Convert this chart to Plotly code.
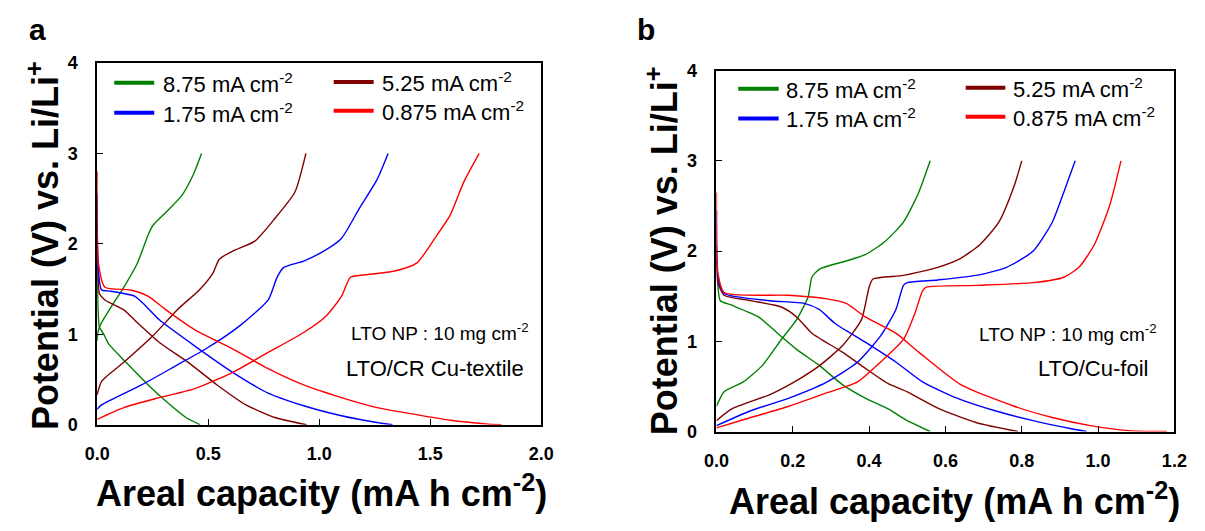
import plotly.graph_objects as go

# ---------------- Panel a : LTO / CR Cu-textile ----------------
a_green_chg_x = [0.0, 0.005, 0.02, 0.07, 0.12, 0.18, 0.23, 0.25, 0.31, 0.38, 0.43, 0.47]
a_green_chg_y = [0.93, 1.04, 1.13, 1.33, 1.52, 1.78, 2.1, 2.2, 2.35, 2.53, 2.75, 3.0]
a_green_dis_x = [0.0, 0.004, 0.01, 0.03, 0.05, 0.13, 0.23, 0.31, 0.40, 0.464]
a_green_dis_y = [1.75, 1.3, 1.08, 1.0, 0.9, 0.69, 0.44, 0.26, 0.08, 0.0]

a_brown_chg_x = [0.0, 0.02, 0.12, 0.25, 0.36, 0.46, 0.52, 0.55, 0.61, 0.71, 0.80, 0.89, 0.94]
a_brown_chg_y = [0.33, 0.48, 0.69, 0.98, 1.27, 1.49, 1.67, 1.83, 1.92, 2.03, 2.28, 2.57, 3.0]
a_brown_dis_x = [0.0, 0.004, 0.01, 0.035, 0.12, 0.18, 0.28, 0.41, 0.54, 0.67, 0.80, 0.943]
a_brown_dis_y = [2.25, 1.7, 1.45, 1.38, 1.27, 1.13, 0.91, 0.69, 0.44, 0.22, 0.08, 0.0]

a_blue_chg_x = [0.0, 0.02, 0.2, 0.36, 0.49, 0.64, 0.77, 0.81, 0.84, 0.93, 1.02, 1.1, 1.18, 1.26, 1.31]
a_blue_chg_y = [0.17, 0.22, 0.44, 0.66, 0.84, 1.09, 1.38, 1.63, 1.74, 1.81, 1.92, 2.06, 2.39, 2.71, 3.0]
a_blue_dis_x = [0.0, 0.004, 0.02, 0.05, 0.17, 0.22, 0.28, 0.44, 0.61, 0.77, 0.93, 1.1, 1.26, 1.33]
a_blue_dis_y = [2.55, 1.75, 1.49, 1.48, 1.42, 1.31, 1.16, 0.87, 0.58, 0.35, 0.21, 0.1, 0.025, 0.0]

a_red_chg_x = [0.0, 0.12, 0.28, 0.44, 0.61, 0.77, 0.93, 1.03, 1.1, 1.14, 1.18, 1.34, 1.44, 1.52, 1.59, 1.65, 1.72]
a_red_chg_y = [0.06, 0.19, 0.30, 0.40, 0.58, 0.80, 1.02, 1.2, 1.42, 1.63, 1.65, 1.70, 1.79, 2.06, 2.32, 2.68, 3.0]
a_red_dis_x = [0.0, 0.005, 0.035, 0.15, 0.23, 0.31, 0.44, 0.61, 0.77, 0.93, 1.1, 1.26, 1.42, 1.59, 1.75, 1.82]
a_red_dis_y = [2.8, 1.8, 1.52, 1.49, 1.42, 1.27, 1.05, 0.84, 0.62, 0.44, 0.30, 0.19, 0.12, 0.05, 0.01, 0.0]

# ---------------- Panel b : LTO / Cu-foil ----------------
b_green_chg_x = [0.0, 0.02, 0.07, 0.12, 0.17, 0.21, 0.24, 0.25, 0.27, 0.34, 0.39, 0.44, 0.49, 0.53, 0.56]
b_green_chg_y = [0.28, 0.44, 0.55, 0.73, 1.02, 1.24, 1.49, 1.71, 1.80, 1.89, 1.96, 2.1, 2.32, 2.65, 3.0]
b_green_dis_x = [0.0, 0.004, 0.01, 0.04, 0.11, 0.16, 0.21, 0.27, 0.33, 0.39, 0.45, 0.50, 0.56]
b_green_dis_y = [1.9, 1.6, 1.45, 1.40, 1.27, 1.09, 0.91, 0.73, 0.52, 0.37, 0.25, 0.12, 0.0]

b_brown_chg_x = [0.0, 0.04, 0.14, 0.22, 0.27, 0.33, 0.38, 0.40, 0.41, 0.49, 0.58, 0.64, 0.69, 0.74, 0.78, 0.80]
b_brown_chg_y = [0.12, 0.25, 0.41, 0.59, 0.73, 0.95, 1.24, 1.6, 1.69, 1.73, 1.82, 1.92, 2.07, 2.32, 2.72, 3.0]
b_brown_dis_x = [0.0, 0.004, 0.02, 0.09, 0.17, 0.21, 0.25, 0.33, 0.39, 0.45, 0.50, 0.58, 0.68, 0.79]
b_brown_dis_y = [2.05, 1.65, 1.51, 1.45, 1.38, 1.27, 1.09, 0.88, 0.70, 0.53, 0.44, 0.26, 0.10, 0.0]

b_blue_chg_x = [0.0, 0.09, 0.19, 0.29, 0.37, 0.43, 0.47, 0.49, 0.50, 0.58, 0.68, 0.76, 0.83, 0.88, 0.91, 0.94]
b_blue_chg_y = [0.065, 0.23, 0.37, 0.55, 0.77, 1.06, 1.35, 1.62, 1.65, 1.68, 1.73, 1.82, 2.0, 2.32, 2.65, 3.0]
b_blue_dis_x = [0.0, 0.004, 0.02, 0.14, 0.23, 0.27, 0.31, 0.39, 0.47, 0.54, 0.63, 0.73, 0.83, 0.93, 0.97]
b_blue_dis_y = [2.45, 1.7, 1.53, 1.45, 1.42, 1.35, 1.2, 0.99, 0.77, 0.55, 0.37, 0.23, 0.12, 0.03, 0.0]

b_red_chg_x = [0.0, 0.09, 0.19, 0.29, 0.37, 0.43, 0.49, 0.52, 0.54, 0.55, 0.68, 0.83, 0.91, 0.95, 0.99, 1.03, 1.06]
b_red_chg_y = [0.04, 0.155, 0.28, 0.43, 0.55, 0.77, 1.02, 1.31, 1.56, 1.6, 1.62, 1.65, 1.71, 1.82, 2.07, 2.5, 3.0]
b_red_dis_x = [0.0, 0.004, 0.02, 0.19, 0.29, 0.34, 0.39, 0.47, 0.53, 0.64, 0.78, 0.88, 0.98, 1.08, 1.18]
b_red_dis_y = [2.65, 1.75, 1.54, 1.51, 1.47, 1.42, 1.27, 1.09, 0.88, 0.52, 0.28, 0.155, 0.065, 0.01, 0.0]

# Current densities and colours (legend order: row-wise)
rates = ["8.75", "5.25", "1.75", "0.875"]
colors = {"8.75": "#008000", "5.25": "#7f0000", "1.75": "#0000ff", "0.875": "#ff0000"}

panel_a = {
    "8.75": (a_green_chg_x, a_green_chg_y, a_green_dis_x, a_green_dis_y),
    "5.25": (a_brown_chg_x, a_brown_chg_y, a_brown_dis_x, a_brown_dis_y),
    "1.75": (a_blue_chg_x, a_blue_chg_y, a_blue_dis_x, a_blue_dis_y),
    "0.875": (a_red_chg_x, a_red_chg_y, a_red_dis_x, a_red_dis_y),
}
panel_b = {
    "8.75": (b_green_chg_x, b_green_chg_y, b_green_dis_x, b_green_dis_y),
    "5.25": (b_brown_chg_x, b_brown_chg_y, b_brown_dis_x, b_brown_dis_y),
    "1.75": (b_blue_chg_x, b_blue_chg_y, b_blue_dis_x, b_blue_dis_y),
    "0.875": (b_red_chg_x, b_red_chg_y, b_red_dis_x, b_red_dis_y),
}

FONT = "Arial, Liberation Sans, sans-serif"
W, H = 1205, 531

fig = go.Figure()

def add_curves(data, xa, ya):
    for r in rates:
        cx, cy, dx, dy = data[r]
        for xs, ys in ((dx, dy), (cx, cy)):
            fig.add_trace(go.Scatter(
                x=xs, y=ys, mode="lines", xaxis=xa, yaxis=ya,
                line=dict(color=colors[r], width=1.4, shape="spline", smoothing=0.6),
                showlegend=False, hoverinfo="skip"))

add_curves(panel_a, "x", "y")
add_curves(panel_b, "x2", "y2")

# Axis domains in pixels
a_px = (86, 540, 55, 431)
b_px = (719, 1187, 63, 438)

def dom(px):
    x0, x1, t, b = px
    return [x0 / W, x1 / W], [1 - b / H, 1 - t / H]

ax_dx, ax_dy = dom(a_px)
bx_dx, bx_dy = dom(b_px)

axis_common = dict(showline=True, mirror=True, linecolor="black", linewidth=1.5,
                   ticks="inside", ticklen=6, tickwidth=1.2, tickcolor="black",
                   showgrid=False, zeroline=False,
                   tickfont=dict(family=FONT, size=18, color="black", weight="bold"))

fig.update_layout(
    width=W, height=H, margin=dict(l=0, r=0, t=0, b=0),
    paper_bgcolor="white", plot_bgcolor="white", showlegend=False,
    xaxis=dict(domain=ax_dx, anchor="y", range=[0, 2.0], tickvals=[0, 0.5, 1.0, 1.5, 2.0],
               ticktext=["0.0", "0.5", "1.0", "1.5", "2.0"], ticklabelstandoff=12, **axis_common),
    yaxis=dict(domain=ax_dy, anchor="x", range=[0, 4], tickvals=[0, 1, 2, 3, 4],
               ticklabelstandoff=14, **axis_common),
    xaxis2=dict(domain=bx_dx, anchor="y2", range=[0, 1.2], tickvals=[0, 0.2, 0.4, 0.6, 0.8, 1.0, 1.2],
                ticktext=["0.0", "0.2", "0.4", "0.6", "0.8", "1.0", "1.2"], ticklabelstandoff=12,
                **axis_common),
    yaxis2=dict(domain=bx_dy, anchor="x2", range=[0, 4], tickvals=[0, 1, 2, 3, 4],
                ticklabelstandoff=14, **axis_common),
)

# Legend samples and labels drawn inside each panel
leg_a = {"8.75": (0.077, 0.257, 3.78), "1.75": (0.077, 0.257, 3.45),
         "5.25": (1.065, 1.245, 3.79), "0.875": (1.065, 1.245, 3.47)}
leg_b = {"8.75": (0.057, 0.163, 3.80), "1.75": (0.057, 0.163, 3.47),
         "5.25": (0.653, 0.757, 3.81), "0.875": (0.653, 0.757, 3.49)}

def add_legend(leg, xr, yr, gap):
    for r in rates:
        x0, x1, yv = leg[r]
        fig.add_shape(type="line", xref=xr, yref=yr, x0=x0, x1=x1, y0=yv, y1=yv,
                      line=dict(color=colors[r], width=4))
        fig.add_annotation(xref=xr, yref=yr, x=x1 + gap, y=yv, xanchor="left", yanchor="middle",
                           text=f"{r} mA cm<sup>-2</sup>", showarrow=False,
                           font=dict(family=FONT, size=22, color="black"))

add_legend(leg_a, "x", "y", 0.03)
add_legend(leg_b, "x2", "y2", 0.014)

# In-plot notes
notes = [
    ("x", "y", 1.955, 1.03, "LTO NP : 10 mg cm<sup>-2</sup>", 19),
    ("x", "y", 1.93, 0.62, "LTO/CR Cu-textile", 22),
    ("x2", "y2", 1.16, 1.09, "LTO NP : 10 mg cm<sup>-2</sup>", 19),
    ("x2", "y2", 1.137, 0.70, "LTO/Cu-foil", 22),
]
for xr, yr, xv, yv, txt, fs in notes:
    fig.add_annotation(xref=xr, yref=yr, x=xv, y=yv, xanchor="right", yanchor="middle",
                       text=txt, showarrow=False, font=dict(family=FONT, size=fs, color="black"))

# Axis titles and panel letters, placed in pixel terms
def px_note(x, y, txt, size, angle=0, bold=True):
    fig.add_annotation(xref="paper", yref="paper", x=x / W, y=1 - y / H,
                       xanchor="center", yanchor="middle", text=txt, showarrow=False,
                       textangle=angle,
                       font=dict(family=FONT, size=size, color="black",
                                 weight="bold" if bold else "normal"))

xt = "Areal capacity (mA h cm<sup>-2</sup>)"
yt = "Potential (V) vs. Li/Li<sup>+</sup>"
px_note(315, 500, xt, 36)
px_note(962, 508, xt, 36)
px_note(30, 245, yt, 36, angle=-90)
px_note(663, 250, yt, 36, angle=-90)
px_note(25, 20, "a", 30)
px_note(647, 20, "b", 30)

fig.write_html("out.html")
